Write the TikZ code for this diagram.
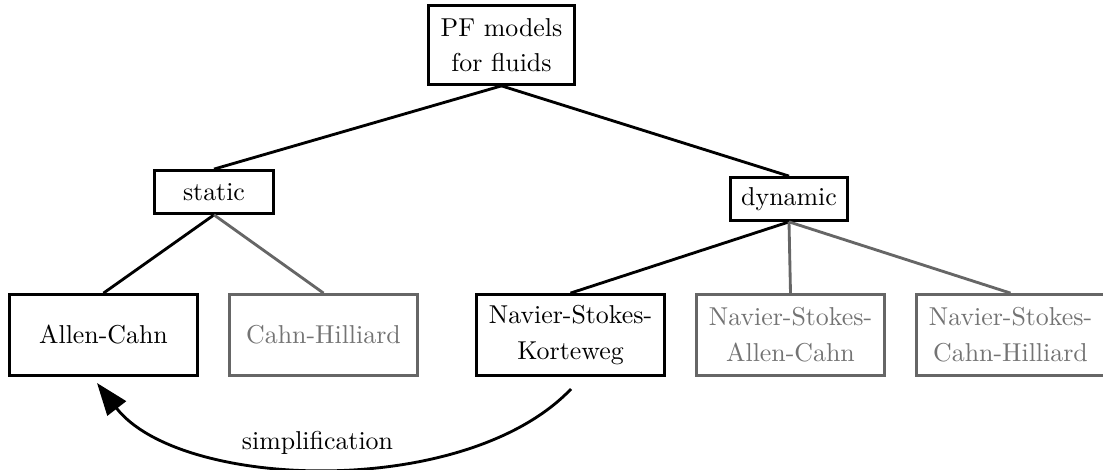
\documentclass[tikz,border=0pt]{standalone}
\usetikzlibrary{arrows.meta}
\begin{document}
\begin{tikzpicture}[x=0.3867pt,y=-0.3867pt,
  box/.style={draw=black, line width=1.1pt, align=center, inner sep=0pt, text=black},
  graybox/.style={box, draw=black!60, text=black!55},
  small/.style={minimum width=46pt, minimum height=16.6pt},
  big/.style={minimum width=72.7pt, minimum height=31.3pt},
  link/.style={line width=1.1pt, draw=black},
  graylink/.style={line width=1.1pt, draw=black!60}]
\useasboundingbox (0,0) rectangle (1103,470);
\node[box, minimum width=56.5pt, minimum height=30.5pt] (pf) at (501.5,45) {PF models\\[1.3pt]for fluids};
\node[box, small] (static) at (214,192) {static};
\node[box, small, minimum width=45.2pt] (dynamic) at (789,199) {dynamic};
\node[box, big] (ac) at (103.5,335) {Allen-Cahn};
\node[graybox, big] (ch) at (323.5,335) {Cahn-Hilliard};
\node[box, big] (nsk) at (570.5,335) {Navier-Stokes-\\[1.8pt]Korteweg};
\node[graybox, big] (nsac) at (790.5,335) {Navier-Stokes-\\[1.8pt]Allen-Cahn};
\node[graybox, big] (nsch) at (1010.5,335) {Navier-Stokes-\\[1.8pt]Cahn-Hilliard};
\draw[link] (pf.south) -- (static.north);
\draw[link] (pf.south) -- (dynamic.north);
\draw[link] (static.south) -- (ac.north);
\draw[graylink] (static.south) -- (ch.north);
\draw[link] (dynamic.south) -- (nsk.north);
\draw[graylink] (dynamic.south) -- (nsac.north);
\draw[graylink] (dynamic.south) -- (nsch.north);
\coordinate (s1) at (571,389);
\coordinate (e1) at (97,383);
\draw[link, -{Triangle[length=12.5pt,width=9pt]}] (s1) .. controls (465,500) and (180,490) .. (e1);
\node (simp) at (317.5,443) {simplification};
\end{tikzpicture}
\end{document}
